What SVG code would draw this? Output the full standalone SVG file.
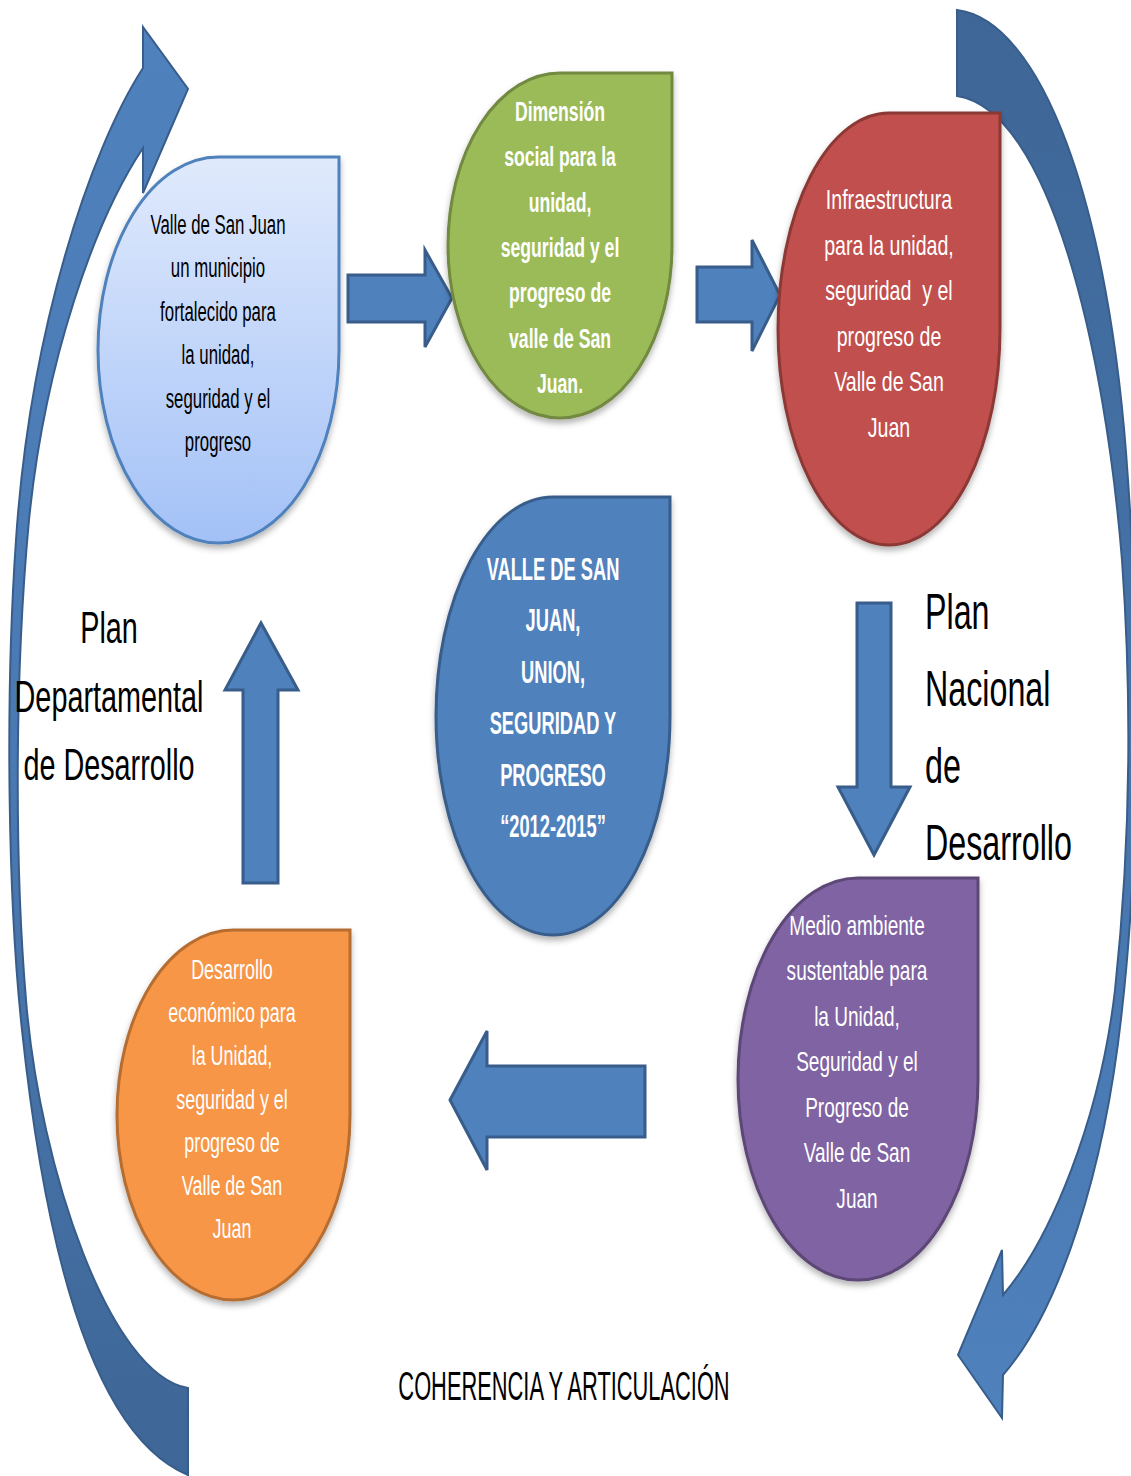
<svg xmlns="http://www.w3.org/2000/svg" width="1131" height="1476" viewBox="0 0 1131 1476">
<defs>
<linearGradient id="gLight" x1="0" y1="0" x2="0" y2="1"><stop offset="0" stop-color="#e0eafc"/><stop offset="1" stop-color="#a3c1f7"/></linearGradient>
<linearGradient id="gLeft" x1="0" y1="0" x2="0" y2="1"><stop offset="0" stop-color="#4f81bd"/><stop offset="0.55" stop-color="#4a79b1"/><stop offset="1" stop-color="#3e6696"/></linearGradient>
<linearGradient id="gRight" x1="0" y1="0" x2="0" y2="1"><stop offset="0" stop-color="#3e6696"/><stop offset="0.5" stop-color="#4674aa"/><stop offset="1" stop-color="#4f81bd"/></linearGradient>
<filter id="sh" x="-10%" y="-10%" width="120%" height="125%"><feDropShadow dx="0" dy="4" stdDeviation="3" flood-color="#000" flood-opacity="0.3"/></filter>
</defs>
<style>
.blk{fill:#4f81bd;stroke:#385d8a;stroke-width:3;stroke-linejoin:miter}
.crv{stroke:#385d8a;stroke-width:2}
.nd{stroke-width:3;filter:url(#sh)}
text{font-family:"Liberation Sans",Arial,sans-serif}
.t{font-size:28px;text-anchor:middle}
.w{fill:#ffffff}
.k{fill:#000000}
</style>
<rect width="1131" height="1476" fill="#ffffff"/>
<g id="connectors">
<path class="crv" fill="url(#gLeft)" d="M188,1475 C80,1430 40,1200 22,1030 C8,900 5,700 16,540 C30,330 90,150 143,68 L143,27 L188,89 L143,193 L143,148 C95,220 45,360 29,520 C14,680 15,870 26,1000 C40,1170 110,1375 188,1388 Z"/>
<path class="crv" fill="url(#gRight)" d="M957,10 C1040,20 1110,200 1128,480 C1140,650 1140,850 1122,1010 C1105,1170 1060,1310 1003,1375 L1002,1418 L958,1355 L1002,1250 L1003,1295 C1050,1240 1100,1120 1115,990 C1130,850 1132,700 1122,560 C1105,350 1050,110 957,96 Z"/>
<path class="blk" d="M348,275 L425,275 L425,250 L452,298 L425,347 L425,322 L348,322 Z"/>
<path class="blk" d="M697,267 L752,267 L752,240 L780,295 L752,351 L752,322 L697,322 Z"/>
<path class="blk" d="M857,603 L891,603 L891,787 L910,787 L874,855 L838,787 L857,787 Z"/>
<path class="blk" d="M243,883 L278,883 L278,690 L298,690 L261,623 L225,690 L243,690 Z"/>
<path class="blk" d="M645,1066 L487,1066 L487,1031 L450,1100 L487,1170 L487,1137 L645,1137 Z"/>
</g>
<g id="node1">
<path class="nd" fill="url(#gLight)" stroke="#4f81bd" d="M218.5,157 L339,157 L339,350 A120.5,193 0 0 1 218.5,543 A120.5,193 0 0 1 98,350 A120.5,193 0 0 1 218.5,157 Z"/>
<g transform="translate(218 0) scale(0.6 1)"><text class="t k"><tspan x="0" y="234">Valle de San Juan</tspan><tspan x="0" y="277">un municipio</tspan><tspan x="0" y="321">fortalecido para</tspan><tspan x="0" y="364">la unidad,</tspan><tspan x="0" y="408">seguridad y el</tspan><tspan x="0" y="451">progreso</tspan></text></g>
</g>
<g id="node2">
<path class="nd" fill="#9bbb59" stroke="#71893f" d="M560,73 L672,73 L672,245.5 A112,172.5 0 0 1 560,418 A112,172.5 0 0 1 448,245.5 A112,172.5 0 0 1 560,73 Z"/>
<g transform="translate(560 0) scale(0.63 1)"><text class="t w" font-weight="bold"><tspan x="0" y="121">Dimensión</tspan><tspan x="0" y="166">social para la</tspan><tspan x="0" y="212">unidad,</tspan><tspan x="0" y="257">seguridad y el</tspan><tspan x="0" y="302">progreso de</tspan><tspan x="0" y="348">valle de San</tspan><tspan x="0" y="393">Juan.</tspan></text></g>
</g>
<g id="node3">
<path class="nd" fill="#c0504d" stroke="#8c3836" d="M889,113 L1000,113 L1000,329 A111,216 0 0 1 889,545 A111,216 0 0 1 778,329 A111,216 0 0 1 889,113 Z"/>
<g transform="translate(889 0) scale(0.7 1)"><text class="t w"><tspan x="0" y="209">Infraestructura</tspan><tspan x="0" y="255">para la unidad,</tspan><tspan x="0" y="300" xml:space="preserve">seguridad  y el</tspan><tspan x="0" y="346">progreso de</tspan><tspan x="0" y="391">Valle de San</tspan><tspan x="0" y="437">Juan</tspan></text></g>
</g>
<g id="center">
<path class="nd" fill="#4f81bd" stroke="#385d8a" d="M553,497 L670,497 L670,716 A117,219 0 0 1 553,935 A117,219 0 0 1 436,716 A117,219 0 0 1 553,497 Z"/>
<g transform="translate(553 0) scale(0.59 1)"><text class="t w" font-weight="bold" style="font-size:31px"><tspan x="0" y="580">VALLE DE SAN</tspan><tspan x="0" y="631">JUAN,</tspan><tspan x="0" y="683">UNION,</tspan><tspan x="0" y="734">SEGURIDAD Y</tspan><tspan x="0" y="786">PROGRESO</tspan><tspan x="0" y="837">“2012-2015”</tspan></text></g>
</g>
<g id="node4">
<path class="nd" fill="#f79646" stroke="#b66d31" d="M233.5,930 L350,930 L350,1115 A116.5,185 0 0 1 233.5,1300 A116.5,185 0 0 1 117,1115 A116.5,185 0 0 1 233.5,930 Z"/>
<g transform="translate(232 0) scale(0.64 1)"><text class="t w"><tspan x="0" y="979">Desarrollo</tspan><tspan x="0" y="1022">económico para</tspan><tspan x="0" y="1065">la Unidad,</tspan><tspan x="0" y="1109">seguridad y el</tspan><tspan x="0" y="1152">progreso de</tspan><tspan x="0" y="1195">Valle de San</tspan><tspan x="0" y="1238">Juan</tspan></text></g>
</g>
<g id="node5">
<path class="nd" fill="#8064a2" stroke="#5c4776" d="M858,878 L978,878 L978,1079 A120,201 0 0 1 858,1280 A120,201 0 0 1 738,1079 A120,201 0 0 1 858,878 Z"/>
<g transform="translate(857 0) scale(0.68 1)"><text class="t w"><tspan x="0" y="935">Medio ambiente</tspan><tspan x="0" y="980">sustentable para</tspan><tspan x="0" y="1026">la Unidad,</tspan><tspan x="0" y="1071">Seguridad y el</tspan><tspan x="0" y="1117">Progreso de</tspan><tspan x="0" y="1162">Valle de San</tspan><tspan x="0" y="1208">Juan</tspan></text></g>
</g>
<g id="label-left">
<g transform="translate(109 0) scale(0.64 1)"><text class="k" style="font-size:45px;text-anchor:middle"><tspan x="0" y="643">Plan</tspan><tspan x="0" y="712">Departamental</tspan><tspan x="0" y="780">de Desarrollo</tspan></text></g>
</g>
<g id="label-right">
<g transform="translate(925 0) scale(0.645 1)"><text class="k" style="font-size:50px;text-anchor:start"><tspan x="0" y="629">Plan</tspan><tspan x="0" y="706">Nacional</tspan><tspan x="0" y="783">de</tspan><tspan x="0" y="860">Desarrollo</tspan></text></g>
</g>
<g id="label-bottom">
<g transform="translate(564 0) scale(0.546 1)"><text class="k" style="font-size:40px;text-anchor:middle"><tspan x="0" y="1400">COHERENCIA Y ARTICULACIÓN</tspan></text></g>
</g>
</svg>
